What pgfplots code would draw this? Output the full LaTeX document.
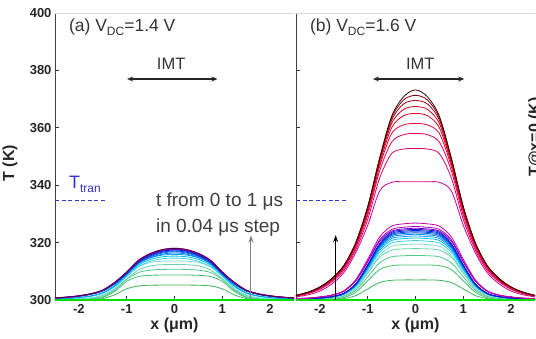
\documentclass[border=0pt]{standalone}
\usepackage{fontspec}
\setmainfont{Liberation Sans}
\usepackage{pgfplots}
\pgfplotsset{compat=1.18}
\usepackage{pgfplotstable}
\usetikzlibrary{arrows.meta}

\definecolor{c0}{RGB}{0,225,0}
\definecolor{c1}{RGB}{60,180,90}
\definecolor{c2}{RGB}{70,190,110}
\definecolor{c3}{RGB}{80,200,140}
\definecolor{c4}{RGB}{100,210,170}
\definecolor{c5}{RGB}{120,225,215}
\definecolor{c6}{RGB}{60,210,230}
\definecolor{c7}{RGB}{0,190,240}
\definecolor{c8}{RGB}{0,160,250}
\definecolor{c9}{RGB}{0,130,250}
\definecolor{c10}{RGB}{0,100,240}
\definecolor{c11}{RGB}{0,70,230}
\definecolor{c12}{RGB}{0,40,220}
\definecolor{c13}{RGB}{30,20,210}
\definecolor{c14}{RGB}{110,0,200}
\definecolor{c15}{RGB}{170,0,190}
\definecolor{c16}{RGB}{200,0,170}
\definecolor{c17}{RGB}{210,0,150}
\definecolor{c18}{RGB}{220,0,110}
\definecolor{c19}{RGB}{228,0,80}
\definecolor{c20}{RGB}{230,0,55}
\definecolor{c21}{RGB}{225,0,35}
\definecolor{c22}{RGB}{205,0,25}
\definecolor{c23}{RGB}{175,0,20}
\definecolor{c24}{RGB}{130,0,10}
\definecolor{c25}{RGB}{60,0,0}
\definecolor{cf}{RGB}{70,0,70}
\definecolor{tranblue}{RGB}{50,50,210}

% left panel (V_DC = 1.4 V)
\pgfplotstableread{
x t1 t2 t3 t4 t5 t6 t7 t8 t9 t10 t11 t12 t13 t14 f
-2.5 300 300 300.05 300.1 300.14 300.37 300.38 300.40 300.66 300.67 300.68 300.70 300.70 300.71 300.72
-2.25 300.03 300.04 300.1 300.2 300.2 300.51 300.54 300.56 300.90 300.92 300.94 300.96 300.97 300.98 300.99
-2 300.05 300.1 300.2 300.4 300.4 300.80 300.84 300.87 301.31 301.34 301.37 301.39 301.41 301.42 301.44
-1.75 300.16 300.3 300.5 300.7 300.8 301.31 301.38 301.43 301.97 302.02 302.05 302.09 302.11 302.13 302.16
-1.5 300.5 300.9 301.2 301.6 301.8 302.34 302.45 302.54 303.12 303.19 303.25 303.31 303.34 303.37 303.42
-1.25 301.8 303.0 303.5 303.7 304.1 304.67 304.90 305.09 305.58 305.71 305.81 305.92 305.98 306.04 306.12
-1 303.9 306.5 307.2 307.4 308.2 308.25 308.64 308.98 309.0 309.07 309.23 309.40 309.50 309.59 309.72
-0.75 304.9 308.2 309.6 310.5 311.6 311.68 312.24 312.72 312.8 312.94 313.17 313.40 313.55 313.67 313.86
-0.5 305.15 308.6 310.4 311.9 313.1 313.5 314.15 314.71 314.76 315.12 315.39 315.66 315.84 315.98 316.2
-0.25 305.2 308.7 310.65 312.3 313.5 314.38 315.07 315.66 315.99 316.38 316.67 316.97 317.16 317.31 317.55
0 305.2 308.7 310.7 312.4 313.6 314.6 315.3 315.9 316.4 316.8 317.1 317.4 317.6 317.75 318.0
0.25 305.2 308.7 310.65 312.3 313.5 314.38 315.07 315.66 315.99 316.38 316.67 316.97 317.16 317.31 317.55
0.5 305.15 308.6 310.4 311.9 313.1 313.5 314.15 314.71 314.76 315.12 315.39 315.66 315.84 315.98 316.2
0.75 304.9 308.2 309.6 310.5 311.6 311.68 312.24 312.72 312.8 312.94 313.17 313.40 313.55 313.67 313.86
1 303.9 306.5 307.2 307.4 308.2 308.25 308.64 308.98 309.0 309.07 309.23 309.40 309.50 309.59 309.72
1.25 301.8 303.0 303.5 303.7 304.1 304.67 304.90 305.09 305.58 305.71 305.81 305.92 305.98 306.04 306.12
1.5 300.5 300.9 301.2 301.6 301.8 302.34 302.45 302.54 303.12 303.19 303.25 303.31 303.34 303.37 303.42
1.75 300.16 300.3 300.5 300.7 300.8 301.31 301.38 301.43 301.97 302.02 302.05 302.09 302.11 302.13 302.16
2 300.05 300.1 300.2 300.4 300.4 300.80 300.84 300.87 301.31 301.34 301.37 301.39 301.41 301.42 301.44
2.25 300.03 300.04 300.1 300.2 300.2 300.51 300.54 300.56 300.90 300.92 300.94 300.96 300.97 300.98 300.99
2.5 300 300 300.05 300.1 300.14 300.37 300.38 300.40 300.66 300.67 300.68 300.70 300.70 300.71 300.72
}\lefttab

% right panel (V_DC = 1.6 V)
\pgfplotstableread{
x t1 t2 t3 t4 t5 t6 t7 t8 t9 t10 t11 t12 t13 t14 t15 t16 t17 t18 t19 t20 t21 t22 t23 t24 t25
-2.5 300 300 300.08 300.09 300.21 300.23 300.24 300.25 300.25 300.26 300.26 300.27 300.27 300.45 300.46 300.48 301.1 301.3 301.4 301.5 301.5 301.55 301.55 301.6 301.6
-2.25 300.04 300.06 300.16 300.18 300.31 300.33 300.35 300.36 300.37 300.37 300.38 300.39 300.39 300.63 300.64 300.67 301.8 302.2 302.4 302.5 302.6 302.6 302.7 302.7 302.7
-2 300.07 300.12 300.28 300.32 300.55 300.58 300.6 300.62 300.64 300.66 300.67 300.68 300.69 301 301.02 301.07 303.1 303.7 304.0 304.2 304.3 304.4 304.5 304.5 304.5
-1.75 300.14 300.24 300.51 300.59 300.94 300.99 301.04 301.07 301.1 301.12 301.14 301.16 301.18 301.63 301.66 301.74 305.6 306.3 306.7 307.0 307.2 307.3 307.4 307.45 307.5
-1.5 300.49 300.85 301.24 301.43 301.85 301.97 302.05 302.12 302.18 302.22 302.26 302.3 302.34 303 303.07 303.22 309.5 310.3 310.9 311.3 311.6 311.8 311.9 311.95 312
-1.25 301.54 302.68 303.41 303.94 304.49 304.76 304.97 305.13 305.27 305.38 305.47 305.57 305.66 306.63 306.78 307.1 316.5 317.5 318.3 318.9 319.3 319.6 319.8 319.9 320
-1 303.85 306.71 308.06 309.31 309.75 310.35 310.8 311.15 311.45 311.7 311.9 312.1 312.3 313.25 313.57 314.2 326 328 329.5 330.5 331.2 331.8 332.2 332.4 332.5
-0.75 306.09 310.61 312.94 314.95 315.6 316.56 317.28 317.84 318.32 318.72 319.04 319.36 319.68 320.5 320.99 321.98 338 342.5 345 346.5 347.5 348.3 348.9 349.2 349.5
-0.5 306.86 311.96 315.04 317.36 318.72 319.87 320.74 321.41 321.98 322.46 322.85 323.23 323.62 324 324.58 325.73 341 351 355 358 360 361.5 362.6 363.4 364
-0.25 307 312.2 315.42 317.81 319.31 320.49 321.38 322.08 322.67 323.17 323.56 323.96 324.35 324.75 325.34 326.53 341.2 352.6 357.6 361 364.2 366.4 368.3 369.7 370.8
0 307 312.2 315.5 317.9 319.5 320.7 321.6 322.3 322.9 323.4 323.8 324.2 324.6 325 325.6 326.8 341.2 352.8 358 361.5 365 367.4 369.5 371.3 373.2
0.25 307 312.2 315.42 317.81 319.31 320.49 321.38 322.08 322.67 323.17 323.56 323.96 324.35 324.75 325.34 326.53 341.2 352.6 357.6 361 364.2 366.4 368.3 369.7 370.8
0.5 306.86 311.96 315.04 317.36 318.72 319.87 320.74 321.41 321.98 322.46 322.85 323.23 323.62 324 324.58 325.73 341 351 355 358 360 361.5 362.6 363.4 364
0.75 306.09 310.61 312.94 314.95 315.6 316.56 317.28 317.84 318.32 318.72 319.04 319.36 319.68 320.5 320.99 321.98 338 342.5 345 346.5 347.5 348.3 348.9 349.2 349.5
1 303.85 306.71 308.06 309.31 309.75 310.35 310.8 311.15 311.45 311.7 311.9 312.1 312.3 313.25 313.57 314.2 326 328 329.5 330.5 331.2 331.8 332.2 332.4 332.5
1.25 301.54 302.68 303.41 303.94 304.49 304.76 304.97 305.13 305.27 305.38 305.47 305.57 305.66 306.63 306.78 307.1 316.5 317.5 318.3 318.9 319.3 319.6 319.8 319.9 320
1.5 300.49 300.85 301.24 301.43 301.85 301.97 302.05 302.12 302.18 302.22 302.26 302.3 302.34 303 303.07 303.22 309.5 310.3 310.9 311.3 311.6 311.8 311.9 311.95 312
1.75 300.14 300.24 300.51 300.59 300.94 300.99 301.04 301.07 301.1 301.12 301.14 301.16 301.18 301.63 301.66 301.74 305.6 306.3 306.7 307.0 307.2 307.3 307.4 307.45 307.5
2 300.07 300.12 300.28 300.32 300.55 300.58 300.6 300.62 300.64 300.66 300.67 300.68 300.69 301 301.02 301.07 303.1 303.7 304.0 304.2 304.3 304.4 304.5 304.5 304.5
2.25 300.04 300.06 300.16 300.18 300.31 300.33 300.35 300.36 300.37 300.37 300.38 300.39 300.39 300.63 300.64 300.67 301.8 302.2 302.4 302.5 302.6 302.6 302.7 302.7 302.7
2.5 300 300 300.08 300.09 300.21 300.23 300.24 300.25 300.25 300.26 300.26 300.27 300.27 300.45 300.46 300.48 301.1 301.3 301.4 301.5 301.5 301.55 301.55 301.6 301.6
}\righttab

\pgfplotsset{
  panel/.style={
    scale only axis, width=239pt, height=287pt,
    anchor=south west,
    xmin=-2.5, xmax=2.5, ymin=300, ymax=400,
    axis lines*=left,
    axis line style={draw=black!75, line width=0.8pt},
    x axis line style={draw=none},
    tick align=inside, major tick length=4pt,
    tick style={black!80, line width=0.7pt},
    xtick={-2,-1,0,1,2}, ytick={300,320,340,360,380,400},
    /pgf/number format/assume math mode=true,
    ticklabel style={font=\fontsize{13}{13}\selectfont\bfseries, text=black!85},
    xticklabel style={yshift=-1pt},
    xlabel={x (μm)},
    xlabel style={at={(axis description cs:0.5,0)}, anchor=center, yshift=-25pt,
      font=\fontsize{16}{16}\selectfont\bfseries, text=black!85},
    clip=false,
  },
  curve/.style={line width=0.8pt, smooth},
}
\newcommand{\sub}[1]{\raisebox{-0.25em}{\fontsize{12}{12}\selectfont #1}}

\begin{document}
\begin{tikzpicture}
% ---------- left panel ----------
\begin{axis}[panel, at={(55pt,38pt)}]
  \draw[black!15, line width=0.6pt] (rel axis cs:0,1) -- (rel axis cs:1,1);
  \pgfplotsinvokeforeach{1,...,14}{
    \addplot[curve, c#1] table[x=x, y=t#1] {\lefttab};
  }
  \addplot[curve, c16, line width=1.1pt] table[x=x, y=f] {\lefttab};
  \addplot[curve, cf, line width=0.9pt] table[x=x, y=f] {\lefttab};
  \addplot[c0, line width=2pt] coordinates {(-2.5,300) (2.5,300)};
  \node[anchor=west, inner sep=0, text=black!80, font=\fontsize{17.5}{17.5}\selectfont]
    at (axis cs:-2.21,395.1) {(a) V\sub{DC}=1.4 V};
  \node[text=black!80, font=\fontsize{16.5}{16.5}\selectfont, inner sep=0]
    at (axis cs:-0.07,382.3) {IMT};
  \draw[{Stealth[length=6pt,width=5pt]}-{Stealth[length=6pt,width=5pt]}, line width=1.3pt, black!85]
    (axis cs:-0.99,377) -- (axis cs:0.90,377);
  \node[anchor=base west, inner sep=0, text=tranblue, font=\fontsize{18}{18}\selectfont]
    at (axis cs:-2.21,339) {T\sub{tran}};
  \draw[tranblue, dash pattern=on 4pt off 2.5pt, line width=1pt]
    (axis cs:-2.5,334.5) -- (axis cs:-1.45,334.5);
  \node[anchor=west, inner sep=0, text=black!75, font=\fontsize{19}{19}\selectfont]
    at (axis cs:-0.39,334.5) {t from 0 to 1 μs};
  \node[anchor=west, inner sep=0, text=black!75, font=\fontsize{19}{19}\selectfont]
    at (axis cs:-0.39,325.4) {in 0.04 μs step};
  \draw[-{Stealth[length=7pt,width=5pt]}, black!50, line width=1pt]
    (axis cs:1.6,300) -- (axis cs:1.6,322.5);
\end{axis}
\node[rotate=90, font=\fontsize{16}{16}\selectfont\bfseries, text=black!85] at (10pt,175pt) {T (K)};
% ---------- right panel ----------
\begin{axis}[panel, at={(296pt,38pt)}, yticklabels={}]
  \draw[black!15, line width=0.6pt] (rel axis cs:0,1) -- (rel axis cs:1,1);
  \pgfplotsinvokeforeach{1,...,25}{
    \addplot[curve, c#1] table[x=x, y=t#1] {\righttab};
  }
  \addplot[c0, line width=2pt] coordinates {(-2.5,300) (2.5,300)};
  \node[anchor=west, inner sep=0, text=black!80, font=\fontsize{17.5}{17.5}\selectfont]
    at (axis cs:-2.21,395.1) {(b) V\sub{DC}=1.6 V};
  \node[text=black!80, font=\fontsize{16.5}{16.5}\selectfont, inner sep=0]
    at (axis cs:0.1,382.3) {IMT};
  \draw[{Stealth[length=6pt,width=5pt]}-{Stealth[length=6pt,width=5pt]}, line width=1.3pt, black!85]
    (axis cs:-0.89,377) -- (axis cs:1.02,377);
  \draw[tranblue, dash pattern=on 4pt off 2.5pt, line width=1pt]
    (axis cs:-2.5,334.5) -- (axis cs:-1.45,334.5);
  \draw[-{Stealth[length=7pt,width=5pt]}, black, line width=1pt]
    (axis cs:-1.67,300) -- (axis cs:-1.67,322.6);
\end{axis}
\node[rotate=90, anchor=north, inner sep=0, font=\fontsize{16}{16}\selectfont\bfseries, text=black!85]
  at (528pt,201pt) {T@x=0 (K)};
\pgfresetboundingbox
\path[use as bounding box] (0,0) rectangle (536pt,338pt);
\end{tikzpicture}
\end{document}
